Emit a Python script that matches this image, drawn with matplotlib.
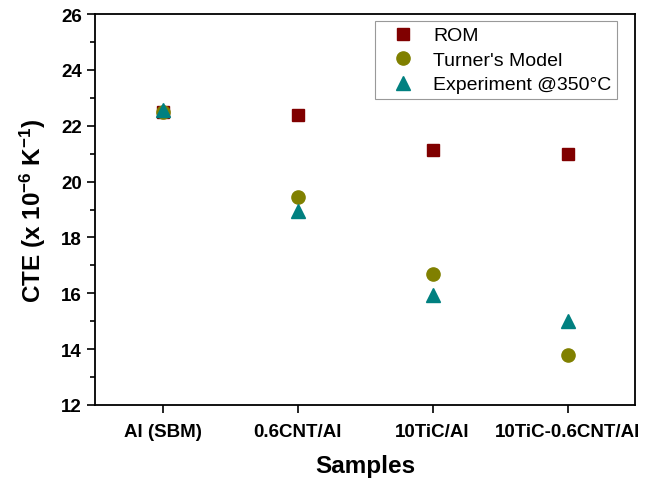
import matplotlib
matplotlib.use("Agg")
import matplotlib.pyplot as plt
from matplotlib.ticker import MultipleLocator

categories = ["Al (SBM)", "0.6CNT/Al", "10TiC/Al", "10TiC-0.6CNT/Al"]
rom = [22.5, 22.38, 21.12, 20.99]
turner = [22.5, 19.43, 16.70, 13.80]
experiment = [22.55, 18.95, 15.95, 15.0]

plt.rcParams['font.family'] = ['Liberation Sans', 'DejaVu Sans']
plt.rcParams['mathtext.fontset'] = 'custom'
plt.rcParams['mathtext.rm'] = 'Liberation Sans'
plt.rcParams['mathtext.bf'] = 'Liberation Sans:bold'
plt.rcParams['mathtext.default'] = 'bf'

fig = plt.figure(figsize=(6.46, 4.81), dpi=100)
ax = fig.add_axes([95/646, 75/481, 540/646, 391/481])

x = list(range(len(categories)))
ax.plot(x, rom, 's', color='#800000', markersize=8.5, linestyle='none', label='ROM')
ax.plot(x, turner, 'o', color='#808000', markersize=9.5, linestyle='none', label="Turner's Model")
ax.plot(x, experiment, '^', color='#008080', markersize=10, linestyle='none', label='Experiment @350°C')

ax.set_xlim(-0.5, 3.5)
ax.set_ylim(12, 26)
ax.set_xticks(x)
ax.set_xticklabels(categories, fontsize=13.5, fontweight='bold')
ax.yaxis.set_major_locator(MultipleLocator(2))
ax.yaxis.set_minor_locator(MultipleLocator(1))
for lab in ax.get_yticklabels():
    lab.set_fontweight('bold')
    lab.set_fontsize(13.5)
ax.tick_params(axis='both', which='major', direction='out', length=6, width=1.2)
ax.tick_params(axis='y', which='minor', direction='out', length=3.5, width=1.2)
ax.tick_params(axis='x', pad=7)
for s in ax.spines.values():
    s.set_linewidth(1.3)

ax.set_xlabel('Samples', fontsize=17.5, fontweight='bold', labelpad=10)
ax.set_ylabel(r'CTE (x 10$^{-6}$ K$^{-1}$)', fontsize=17.5, fontweight='bold', labelpad=9)

leg = ax.legend(loc='upper right', bbox_to_anchor=(0.967, 0.982), borderaxespad=0,
                fontsize=14, frameon=True, fancybox=False, edgecolor='#808080',
                handletextpad=0.4, borderpad=0.3, labelspacing=0.35, handlelength=2.3)
leg.get_frame().set_linewidth(0.8)

fig.savefig('out.png', dpi=100)
